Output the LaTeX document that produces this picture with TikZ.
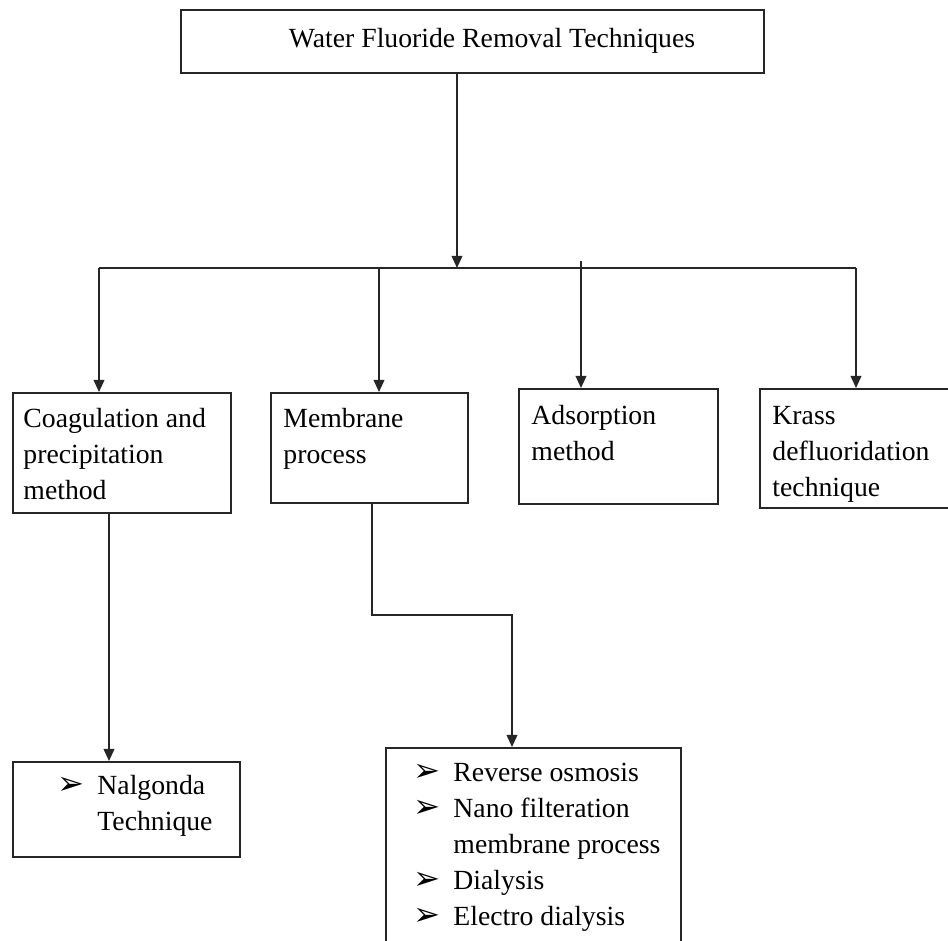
\documentclass[tikz,border=0pt]{standalone}
\usepackage{fontspec}
\setmainfont{Liberation Serif}
\newfontfamily\dingfont{DejaVu Sans}
\usetikzlibrary{arrows.meta}
\newcommand\unitpx{0.433pt}
\newcommand\bul{\makebox[0pt][r]{{\dingfont\fontsize{14}{14}\selectfont\char"27A2}\hspace{5.5pt}}}
\begin{document}
\begin{tikzpicture}[x=\unitpx,y=-\unitpx,
  wire/.style={line width=0.75pt,draw=black!85},
  arr/.style={wire,-{Triangle[length=5.2pt,width=4.6pt]}},
  box/.style={draw=black!85,line width=0.75pt,anchor=north west,inner sep=0},
  txt/.style={anchor=north west,inner sep=0,align=left,font=\fontsize{12}{15.6}\selectfont}]
\clip (0,0) rectangle (948,941);
% boxes
\node[box,minimum width=583*\unitpx,minimum height=63*\unitpx] (top) at (180,9) {};
\node[txt,anchor=base] (toptxt) at (492,47) {Water Fluoride Removal Techniques};
\node[box,minimum width=218*\unitpx,minimum height=120*\unitpx] (coag) at (12,392) {};
\node[txt] (coagtxt) at (23,408) {Coagulation and\\precipitation\\method};
\node[box,minimum width=197*\unitpx,minimum height=110*\unitpx] (mem) at (270,392) {};
\node[txt] (memtxt) at (283,408) {Membrane\\process};
\node[box,minimum width=199*\unitpx,minimum height=115*\unitpx] (ads) at (518,388) {};
\node[txt] (adstxt) at (531,405) {Adsorption\\method};
\node[box,minimum width=230*\unitpx,minimum height=119*\unitpx] (krass) at (759,388) {};
\begin{scope}
\clip (krass.north west) rectangle (krass.south east);
\node[txt] (krasstxt) at (772,406) {Krass\\defluoridation\\technique};
\end{scope}
\node[box,minimum width=227*\unitpx,minimum height=95*\unitpx] (nalg) at (12,761) {};
\node[txt] (nalgtxt) at (97,775) {\bul Nalgonda\\Technique};
\node[box,minimum width=295*\unitpx,minimum height=250*\unitpx] (list) at (385,747) {};
\node[txt] (listtxt) at (453,763) {\bul Reverse osmosis\\\bul Nano filteration\\membrane process\\\bul Dialysis\\\bul Electro dialysis};
% connectors
\coordinate (hub) at (457,268);
\coordinate (barL) at (99,268);
\coordinate (barR) at (856,268);
\coordinate (brB) at (379,268);
\coordinate (brC) at (581,261);
\coordinate (cn) at (109,0);
\coordinate (m1) at (372,615);
\coordinate (m2) at (512,615);
\draw[arr] (hub |- top.south) -- (hub);
\draw[wire] (barL) -- (barR);
\draw[arr] (barL) -- (barL |- coag.north);
\draw[arr] (brB) -- (brB |- mem.north);
\draw[arr] (brC) -- (brC |- ads.north);
\draw[arr] (barR) -- (barR |- krass.north);
\draw[arr] (cn |- coag.south) -- (cn |- nalg.north);
\draw[arr] (m1 |- mem.south) -- (m1) -- (m2) -- (m2 |- list.north);
\end{tikzpicture}
\end{document}
